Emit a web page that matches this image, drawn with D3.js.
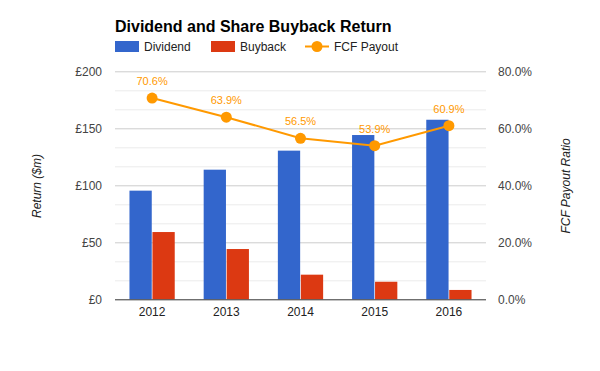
<!DOCTYPE html>
<html>
<head>
<meta charset="utf-8">
<script src="https://cdn.jsdelivr.net/npm/d3@7"></script>
<style>
  body { margin: 0; background: #fff; }
  text { font-family: "Liberation Sans", Arial, sans-serif; }
</style>
</head>
<body>
<svg id="chart" width="600" height="371"></svg>
<script>
// chart data
const years = ["2012", "2013", "2014", "2015", "2016"];
const dividend = [95.3, 113.7, 130.4, 144.1, 157.5];
const buyback = [59, 44.1, 21.6, 15.4, 8.2];
const fcfPayout = [70.6, 63.9, 56.5, 53.9, 60.9];
const leftTicks = [0, 50, 100, 150, 200];
const rightTicks = [0, 20, 40, 60, 80];

const svg = d3.select("#chart");
const margin = { left: 115, right: 114, top: 71.3, bottom: 71.7 };
const width = 600 - margin.left - margin.right;
const height = 371 - margin.top - margin.bottom;
const g = svg.append("g").attr("transform", `translate(${margin.left},${margin.top})`);

const x = d3.scaleBand().domain(years).range([0, width]).paddingInner(0.39).paddingOuter(0.195);
const xSub = d3.scaleBand().domain(["dividend", "buyback"]).range([0, x.bandwidth()]).paddingInner(0.03);
const yLeft = d3.scaleLinear().domain([0, 200]).range([height, 0]);
const yRight = d3.scaleLinear().domain([0, 80]).range([height, 0]);

// minor grid
g.append("g")
    .selectAll("line")
    .data(d3.range(0, 200, 50 / 3).filter((v) => Math.abs(v % 50) > 1 && Math.abs(v % 50 - 50) > 1))
    .join("line")
    .attr("x1", 0).attr("x2", width)
    .attr("y1", (d) => Math.round(yLeft(d)) + 0.5).attr("y2", (d) => Math.round(yLeft(d)) + 0.5)
    .attr("stroke", "#ebebeb");

// major grid
g.append("g")
    .selectAll("line")
    .data(leftTicks.slice(1))
    .join("line")
    .attr("x1", 0).attr("x2", width)
    .attr("y1", (d) => Math.round(yLeft(d)) + 0.5).attr("y2", (d) => Math.round(yLeft(d)) + 0.5)
    .attr("stroke", "#cccccc");

// left axis
const leftAxis = d3.axisLeft(yLeft).tickValues(leftTicks).tickSize(0).tickPadding(13)
    .tickFormat((d) => "£" + d);
g.append("g").call(leftAxis)
    .call((a) => a.select(".domain").remove())
    .selectAll("text").attr("fill", "#444").attr("font-size", 12);

// right axis
const rightAxis = d3.axisRight(yRight).tickValues(rightTicks).tickSize(0).tickPadding(12)
    .tickFormat((d) => d.toFixed(1) + "%");
g.append("g").attr("transform", `translate(${width},0)`).call(rightAxis)
    .call((a) => a.select(".domain").remove())
    .selectAll("text").attr("fill", "#444").attr("font-size", 12);

// bars
const groups = g.append("g")
    .selectAll("g")
    .data(years)
    .join("g")
    .attr("transform", (d) => `translate(${x(d)},0)`);
groups.append("rect")
    .attr("x", xSub("dividend"))
    .attr("width", xSub.bandwidth())
    .attr("y", (d, i) => yLeft(dividend[i]))
    .attr("height", (d, i) => height - yLeft(dividend[i]))
    .attr("fill", "#3366cc");
groups.append("rect")
    .attr("x", xSub("buyback"))
    .attr("width", xSub.bandwidth())
    .attr("y", (d, i) => yLeft(buyback[i]))
    .attr("height", (d, i) => height - yLeft(buyback[i]))
    .attr("fill", "#dc3912");

// baseline
g.append("line")
    .attr("x1", 0).attr("x2", width)
    .attr("y1", height + 0.5).attr("y2", height + 0.5)
    .attr("stroke", "#333");

// x axis
const xAxis = d3.axisBottom(x).tickSize(0).tickPadding(8);
g.append("g").attr("transform", `translate(0,${height})`).call(xAxis)
    .call((a) => a.select(".domain").remove())
    .selectAll("text").attr("fill", "#222").attr("font-size", 12);

// FCF payout line
const cx = (d, i) => x(years[i]) + x.bandwidth() / 2;
const line = d3.line().x(cx).y((d) => yRight(d));
g.append("path")
    .datum(fcfPayout)
    .attr("d", line)
    .attr("fill", "none")
    .attr("stroke", "#ff9900")
    .attr("stroke-width", 2);
g.append("g")
    .selectAll("circle")
    .data(fcfPayout)
    .join("circle")
    .attr("cx", cx)
    .attr("cy", (d) => yRight(d))
    .attr("r", 5.5)
    .attr("fill", "#ff9900");
g.append("g")
    .selectAll("text")
    .data(fcfPayout)
    .join("text")
    .attr("x", cx)
    .attr("y", (d) => yRight(d) - 13)
    .attr("text-anchor", "middle")
    .attr("font-size", 11)
    .attr("fill", "#ff9900")
    .text((d) => d.toFixed(1) + "%");

// axis titles
svg.append("text")
    .attr("transform", "translate(41,186) rotate(-90)")
    .attr("text-anchor", "middle")
    .attr("font-size", 12)
    .attr("font-style", "italic")
    .attr("fill", "#222")
    .text("Return ($m)");
svg.append("text")
    .attr("transform", "translate(570,186) rotate(-90)")
    .attr("text-anchor", "middle")
    .attr("font-size", 12)
    .attr("font-style", "italic")
    .attr("fill", "#222")
    .text("FCF Payout Ratio");

// title
svg.append("text")
    .attr("x", 115).attr("y", 32)
    .attr("font-size", 16)
    .attr("font-weight", "bold")
    .attr("fill", "#000")
    .text("Dividend and Share Buyback Return");

// legend
const legend = svg.append("g").attr("transform", "translate(115,41)");
legend.append("rect").attr("x", 0).attr("y", 0).attr("width", 24).attr("height", 11).attr("fill", "#3366cc");
legend.append("text").attr("x", 29).attr("y", 10).attr("font-size", 12).attr("fill", "#222").text("Dividend");
legend.append("rect").attr("x", 96).attr("y", 0).attr("width", 24).attr("height", 11).attr("fill", "#dc3912");
legend.append("text").attr("x", 125).attr("y", 10).attr("font-size", 12).attr("fill", "#222").text("Buyback");
legend.append("line").attr("x1", 190).attr("x2", 214).attr("y1", 5.5).attr("y2", 5.5)
    .attr("stroke", "#ff9900").attr("stroke-width", 2);
legend.append("circle").attr("cx", 202).attr("cy", 5.5).attr("r", 5.5).attr("fill", "#ff9900");
legend.append("text").attr("x", 219).attr("y", 10).attr("font-size", 12).attr("fill", "#222").text("FCF Payout");
</script>
</body>
</html>
